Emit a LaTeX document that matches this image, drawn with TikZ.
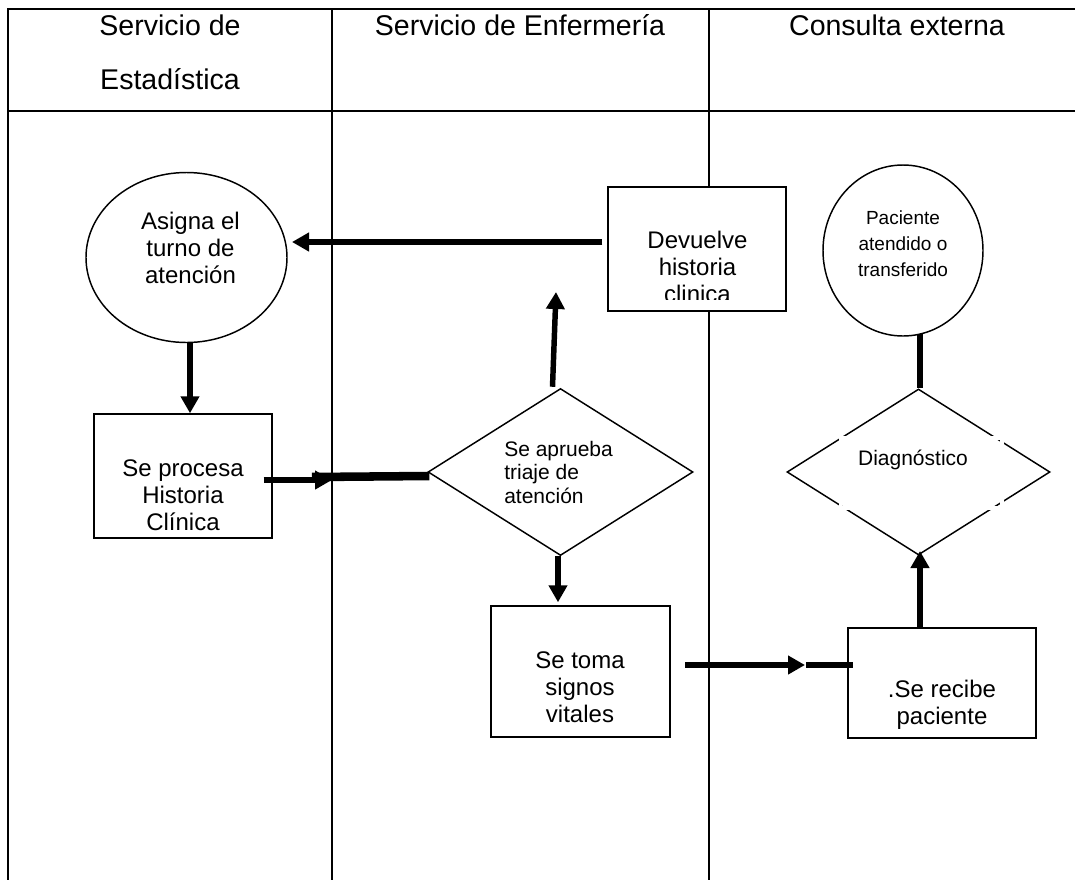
\documentclass[tikz,border=0pt]{standalone}
\usepackage{fontspec}
\setmainfont{Liberation Sans}
\usetikzlibrary{shapes.geometric,arrows.meta,calc}
\def\pxu{0.75pt}
\begin{document}
\begin{tikzpicture}[x=0.75pt,y=-0.75pt,
  tbl/.style={line width=1.75pt, line cap=rect},
  shp/.style={draw, line width=1.1pt, fill=white, inner sep=0pt},
  arr/.style={line width=4.1pt, -{Triangle[length=12.75pt,width=13.5pt]}},
  thick line/.style={line width=4.1pt},
  hdr/.style={font=\fontsize{21.4}{40.5}\selectfont, align=center, anchor=base, inner sep=0pt},
  big/.style={font=\fontsize{18}{20.1}\selectfont, align=center, anchor=base, inner sep=0pt},
  mid/.style={font=\fontsize{15.75}{17.6}\selectfont, inner sep=0pt},
  small/.style={font=\fontsize{14.25}{19.5}\selectfont, align=center, anchor=base, inner sep=0pt}]
\useasboundingbox (0,0) rectangle (1075,879);

% table
\draw[tbl] (8,9) -- (1075,9);
\draw[tbl] (8,111) -- (1075,111);
\draw[tbl] (8,9) -- (8,880);
\draw[tbl] (332,9) -- (332,880);
\draw[tbl] (709,9) -- (709,880);

% headers (base anchor = baseline of the last line)
\node[hdr] (h1) at (170,89) {Servicio de\\Estadística};
\node[hdr] (h2) at (520,35) {Servicio de Enfermería};
\node[hdr] (h3) at (897,35) {Consulta externa};

% shapes
\node[shp, ellipse, minimum width=201*\pxu, minimum height=170*\pxu] (ell1) at (186.5,257.5) {};
\node[shp, rectangle, minimum width=178*\pxu, minimum height=124*\pxu] (box1) at (183,476) {};
\node[shp, rectangle, minimum width=178*\pxu, minimum height=124*\pxu] (dev) at (697,249) {};
\node[shp, diamond, minimum width=265*\pxu, minimum height=167*\pxu] (dia1) at (560.5,472) {};
\node[shp, rectangle, minimum width=179*\pxu, minimum height=131*\pxu] (toma) at (580.5,671.5) {};
\node[shp, ellipse, minimum width=160*\pxu, minimum height=171*\pxu] (ell2) at (903,250.5) {};
\node[shp, diamond, minimum width=263*\pxu, minimum height=166*\pxu] (dia2) at (918.5,472) {};
\node[shp, rectangle, minimum width=188*\pxu, minimum height=110*\pxu] (recibe) at (942,683) {};

% connector end points
\coordinate (c1s) at ($(dev.west)+(-5,-7)$);
\coordinate (c1e) at (292,242);
\coordinate (c2s) at ($(box1.east)+(-9,4)$);
\coordinate (c2e) at (332,480);
\coordinate (c3s) at (312,477);
\coordinate (c3e) at ($(dia1.west)+(2,4)$);
\coordinate (c4s) at ($(dia1.north)+(-8,-1)$);
\coordinate (c4e) at (556,292);
\coordinate (c5s) at ($(dia1.south)+(-2.5,0)$);
\coordinate (c5e) at ($(toma.north)+(-22.5,-3)$);
\coordinate (c6s) at (685,665);
\coordinate (c6e) at (805,665);
\coordinate (c7s) at (806,665);
\coordinate (c7e) at (853,665);
\coordinate (c8s) at ($(recibe.north)+(-22,0)$);
\coordinate (c8e) at (920,551);
\coordinate (c9s) at (920,334);
\coordinate (c9e) at ($(dia2.north)+(1.5,0)$);
\coordinate (c10s) at ($(ell1.south)+(3.5,0)$);
\coordinate (c10e) at ($(box1.north)+(7,0)$);

% connectors
\draw[arr] (c1s) -- (c1e);
\draw[arr] (c10s) -- (c10e);
\draw[line width=6.4pt] (c3s) -- (c3e);
\draw[arr] (c2s) -- (c2e);
\draw[arr] (c4s) -- (c4e);
\draw[arr] (c5s) -- (c5e);
\draw[arr] (c6s) -- (c6e);
\draw[thick line] (c7s) -- (c7e);
\draw[arr] (c8s) -- (c8e);
\draw[thick line] (c9s) -- (c9e);

% white text frame over Diagnóstico diamond
\draw[white, line width=2.4pt] (840.5,438) rectangle (1002,508);

% texts (base anchor = baseline of the last line)
\node[big] (t1) at (190.5,283) {Asigna el\\turno de\\atención};
\node[big] (t2) at (183,530) {Se procesa\\Historia\\Clínica};
\node[mid, align=left, anchor=base west] (t3) at (504,503) {Se aprueba\\triaje de\\atención};
\begin{scope}
\clip (608,187) rectangle (786,299);
\node[big] (t4) at (697.5,302) {Devuelve\\historia\\clinica};
\end{scope}
\node[small] (t5) at (903,276) {Paciente\\atendido o\\transferido};
\node[mid, anchor=base] (t6) at (913,465) {Diagnóstico};
\node[big] (t7) at (580,722) {Se toma\\signos\\vitales};
\node[big] (t8) at (942,724) {.Se recibe\\paciente};
\end{tikzpicture}
\end{document}
